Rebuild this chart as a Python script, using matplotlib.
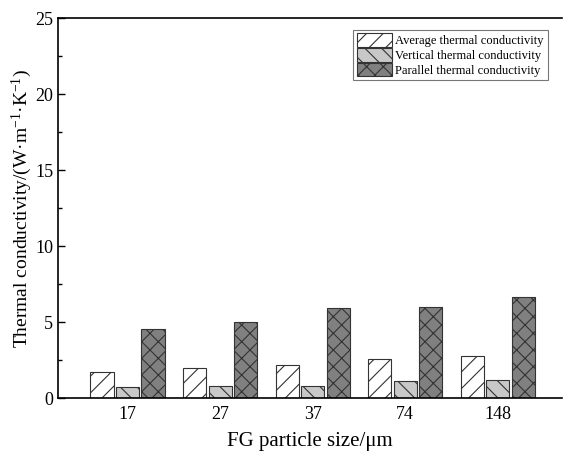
import numpy as np
import matplotlib.pyplot as plt
from matplotlib.ticker import MultipleLocator

plt.rcParams['font.family'] = ['Liberation Serif', 'DejaVu Serif']
plt.rcParams['mathtext.fontset'] = 'custom'
plt.rcParams['mathtext.rm'] = 'Liberation Serif'
plt.rcParams['mathtext.it'] = 'Liberation Serif:italic'
plt.rcParams['hatch.linewidth'] = 0.8
plt.rcParams['hatch.color'] = '#333333'

sizes = ['17', '27', '37', '74', '148']
average = [1.7, 2.0, 2.15, 2.6, 2.8]
vertical = [0.72, 0.8, 0.8, 1.13, 1.2]
parallel = [4.54, 5.0, 5.9, 6.0, 6.65]

x = np.arange(len(sizes))
w = 0.25
step = 0.275

fig = plt.figure(figsize=(5.64, 4.55), dpi=100)
ax = fig.add_axes([0.103, 0.125, 0.893, 0.835])

ax.bar(x - step, average, w, color='white', edgecolor='#333333', linewidth=0.8,
       hatch='//', label='Average thermal conductivity')
ax.bar(x, vertical, w, color='#c8c8c8', edgecolor='#333333', linewidth=0.8,
       hatch='\\\\', label='Vertical thermal conductivity')
ax.bar(x + step, parallel, w, color='#808080', edgecolor='#333333', linewidth=0.8,
       hatch='xx', label='Parallel thermal conductivity')

ax.set_xlim(-0.75, 4.69)
ax.set_ylim(0, 25)
ax.set_xticks(x)
ax.set_xticklabels(sizes)
ax.yaxis.set_major_locator(MultipleLocator(5))
ax.yaxis.set_minor_locator(MultipleLocator(2.5))
ax.tick_params(axis='y', direction='in', length=5, width=1, labelsize=13)
ax.tick_params(axis='y', which='minor', direction='in', length=3, width=1)
ax.tick_params(axis='x', length=0, labelsize=13, pad=6)
ax.spines['right'].set_visible(False)
for s in ['left', 'bottom', 'top']:
    ax.spines[s].set_linewidth(1.2)

ax.set_xlabel('FG particle size/μm', fontsize=15, labelpad=6)
ax.set_ylabel('Thermal conductivity/(W·m$^{-1}$·K$^{-1}$)', fontsize=14, labelpad=1)

leg = ax.legend(loc='upper right', bbox_to_anchor=(0.972, 0.97), fontsize=9,
                frameon=True, fancybox=False, edgecolor='#555555',
                handlelength=2.8, handleheight=1.3, handletextpad=0.3,
                labelspacing=0.05, borderpad=0.3, borderaxespad=0)
leg.get_frame().set_linewidth(0.8)

fig.savefig('out.png', dpi=100)
